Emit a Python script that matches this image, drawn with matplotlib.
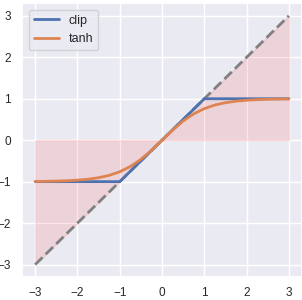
import numpy as np
import matplotlib
matplotlib.use("Agg")
import matplotlib.pyplot as plt
import seaborn as sns

sns.set_theme(style="darkgrid")
plt.rcParams['font.family'] = ['Liberation Sans', 'DejaVu Sans']

# identity line / shaded region
ident_x = [-3, 0, 3]
ident_y = [-3, 0, 3]

# clip(x, -1, 1)
clip_x = [-3, -1, 1, 3]
clip_y = [-1, -1, 1, 1]

# tanh(x), read at 0.25 steps
tanh_x = [-3.0, -2.75, -2.5, -2.25, -2.0, -1.75, -1.5, -1.25, -1.0, -0.75, -0.5, -0.25,
          0.0, 0.25, 0.5, 0.75, 1.0, 1.25, 1.5, 1.75, 2.0, 2.25, 2.5, 2.75, 3.0]
tanh_y = [-0.9951, -0.9919, -0.9866, -0.9780, -0.9640, -0.9414, -0.9051, -0.8483, -0.7616,
          -0.6351, -0.4621, -0.2449, 0.0, 0.2449, 0.4621, 0.6351, 0.7616, 0.8483, 0.9051,
          0.9414, 0.9640, 0.9780, 0.9866, 0.9919, 0.9951]

ticks = [-3, -2, -1, 0, 1, 2, 3]

fig = plt.figure(figsize=(3.02, 3.0), dpi=100)
ax = fig.add_axes([0.0745, 0.0767, 0.924, 0.912])

ax.fill_between(ident_x, ident_y, 0, color="red", alpha=0.1)
ax.plot(ident_x, ident_y, "--", color="gray", lw=2)
ax.plot(clip_x, clip_y, lw=2, label="clip")
ax.plot(tanh_x, tanh_y, lw=2, label="tanh")

ax.set_xticks(ticks)
ax.set_yticks(ticks)
ax.tick_params(axis="x", labelsize=8.5, length=0, pad=7)
ax.tick_params(axis="y", labelsize=8.5, length=0, pad=8.4)
ax.legend(loc="upper left", fontsize=9)

fig.savefig("out.png", dpi=100)
